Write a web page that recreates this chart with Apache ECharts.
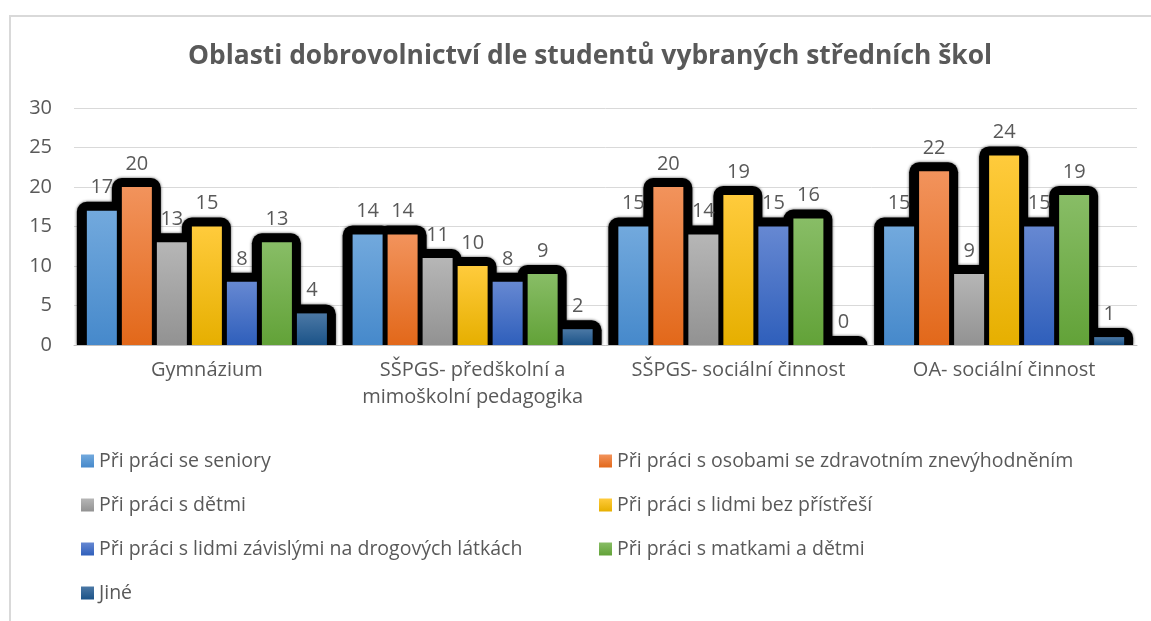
<!DOCTYPE html>
<html><head><meta charset="utf-8">
<script src="https://cdn.jsdelivr.net/npm/echarts@6/dist/echarts.min.js"></script>
<style>html,body{margin:0;padding:0;background:#fff}#c{width:1151px;height:621px}</style>
</head><body><div id="c"></div>
<script>
const categories = ['Gymnázium', 'SŠPGS- předškolní a\nmimoškolní pedagogika', 'SŠPGS- sociální činnost', 'OA- sociální činnost'];
const seriesNames = ['Při práci se seniory', 'Při práci s osobami se zdravotním znevýhodněním', 'Při práci s dětmi', 'Při práci s lidmi bez přístřeší', 'Při práci s lidmi závislými na drogových látkách', 'Při práci s matkami a dětmi', 'Jiné'];
const seniory = [17, 14, 15, 15];
const znevyhodneni = [20, 14, 20, 22];
const detmi = [13, 11, 14, 9];
const bezPristresi = [15, 10, 19, 24];
const drogy = [8, 8, 15, 15];
const matky = [13, 9, 16, 19];
const jine = [4, 2, 0, 1];
const yTicks = [0, 5, 10, 15, 20, 25, 30];
const values = [seniory, znevyhodneni, detmi, bezPristresi, drogy, matky, jine];
const gradients = [
  ['#72a9dd', '#4689cb'],
  ['#f2935c', '#e2681a'],
  ['#b6b6b6', '#929292'],
  ['#ffcb3c', '#e6af00'],
  ['#6688d2', '#2f5fbb'],
  ['#88bd66', '#62a238'],
  ['#4b78a5', '#1b5388']
];
const txt = '#595959';
const font = 'Open Sans';
const BAR_W = 30, BAR_STEP = 35, GLOW = 9;
function grad(c){return new echarts.graphic.LinearGradient(0,0,0,1,[{offset:0,color:c[0]},{offset:1,color:c[1]}]);}
const series = [];
values.forEach((v, i) => {
  series.push({
    name: 'glow' + i, type: 'custom', z: 1, silent: true, clip: true,
    data: v.map((val, k) => [k, val]),
    encode: {x: 0, y: 1},
    renderItem: function (params, api) {
      const top = api.coord([api.value(0), api.value(1)]);
      const base = api.coord([api.value(0), 0]);
      const cx = top[0] + (i - 3) * BAR_STEP;
      return {
        type: 'rect',
        shape: {x: cx - BAR_W / 2 - GLOW - 1, y: top[1] - GLOW, width: BAR_W + 2 * GLOW + 1, height: base[1] - top[1] + GLOW, r: [10, 10, 0, 0]},
        style: {fill: '#000', shadowColor: 'rgba(0,0,0,0.7)', shadowBlur: 3}
      };
    }
  });
});
values.forEach((v, i) => {
  series.push({
    name: seriesNames[i], type: 'bar', data: v, barWidth: BAR_W, barGap: ((BAR_STEP - BAR_W) / BAR_W * 100).toFixed(1) + '%', z: 3,
    itemStyle: {color: grad(gradients[i])},
    label: {show: true, position: 'top', distance: 13, color: txt, fontSize: 20, fontFamily: font}
  });
});
const chart = echarts.init(document.getElementById('c'), null, {renderer: 'canvas'});
chart.setOption({
  backgroundColor: '#fff',
  animation: false,
  title: {text: 'Oblasti dobrovolnictví dle studentů vybraných středních škol', left: 585, textAlign: 'center', top: 38,
    textStyle: {color: txt, fontSize: 26.4, fontWeight: 'bold', fontFamily: font}},
  graphic: [{type: 'rect', shape: {x: 10, y: 16, width: 1300, height: 800}, style: {fill: 'none', stroke: '#d9d9d9', lineWidth: 2}, silent: true}],
  grid: {left: 74, right: 14, top: 108, bottom: 276, containLabel: false},
  legend: [
    {data: [seriesNames[0], seriesNames[2], seriesNames[4], seriesNames[6]], orient: 'vertical', left: 76, top: 446,
     itemWidth: 13, itemHeight: 13, itemGap: 24, icon: 'rect', textStyle: {color: txt, fontSize: 19.5, fontFamily: font, lineHeight: 20}},
    {data: [seriesNames[1], seriesNames[3], seriesNames[5]], orient: 'vertical', left: 594, top: 446,
     itemWidth: 13, itemHeight: 13, itemGap: 24, icon: 'rect', textStyle: {color: txt, fontSize: 19.5, fontFamily: font, lineHeight: 20}}
  ],
  xAxis: {type: 'category', data: categories, axisTick: {show: false},
     axisLine: {lineStyle: {color: '#bfbfbf', width: 1}},
     axisLabel: {color: txt, fontSize: 20, fontFamily: font, margin: 12, lineHeight: 27, interval: 0}},
  yAxis: {type: 'value', min: yTicks[0], max: yTicks[yTicks.length - 1], interval: 5,
    axisLine: {show: false}, axisTick: {show: false},
    splitLine: {lineStyle: {color: '#d9d9d9', width: 1}},
    axisLabel: {color: txt, fontSize: 20, fontFamily: font, margin: 22}},
  series: series
});
</script></body></html>
